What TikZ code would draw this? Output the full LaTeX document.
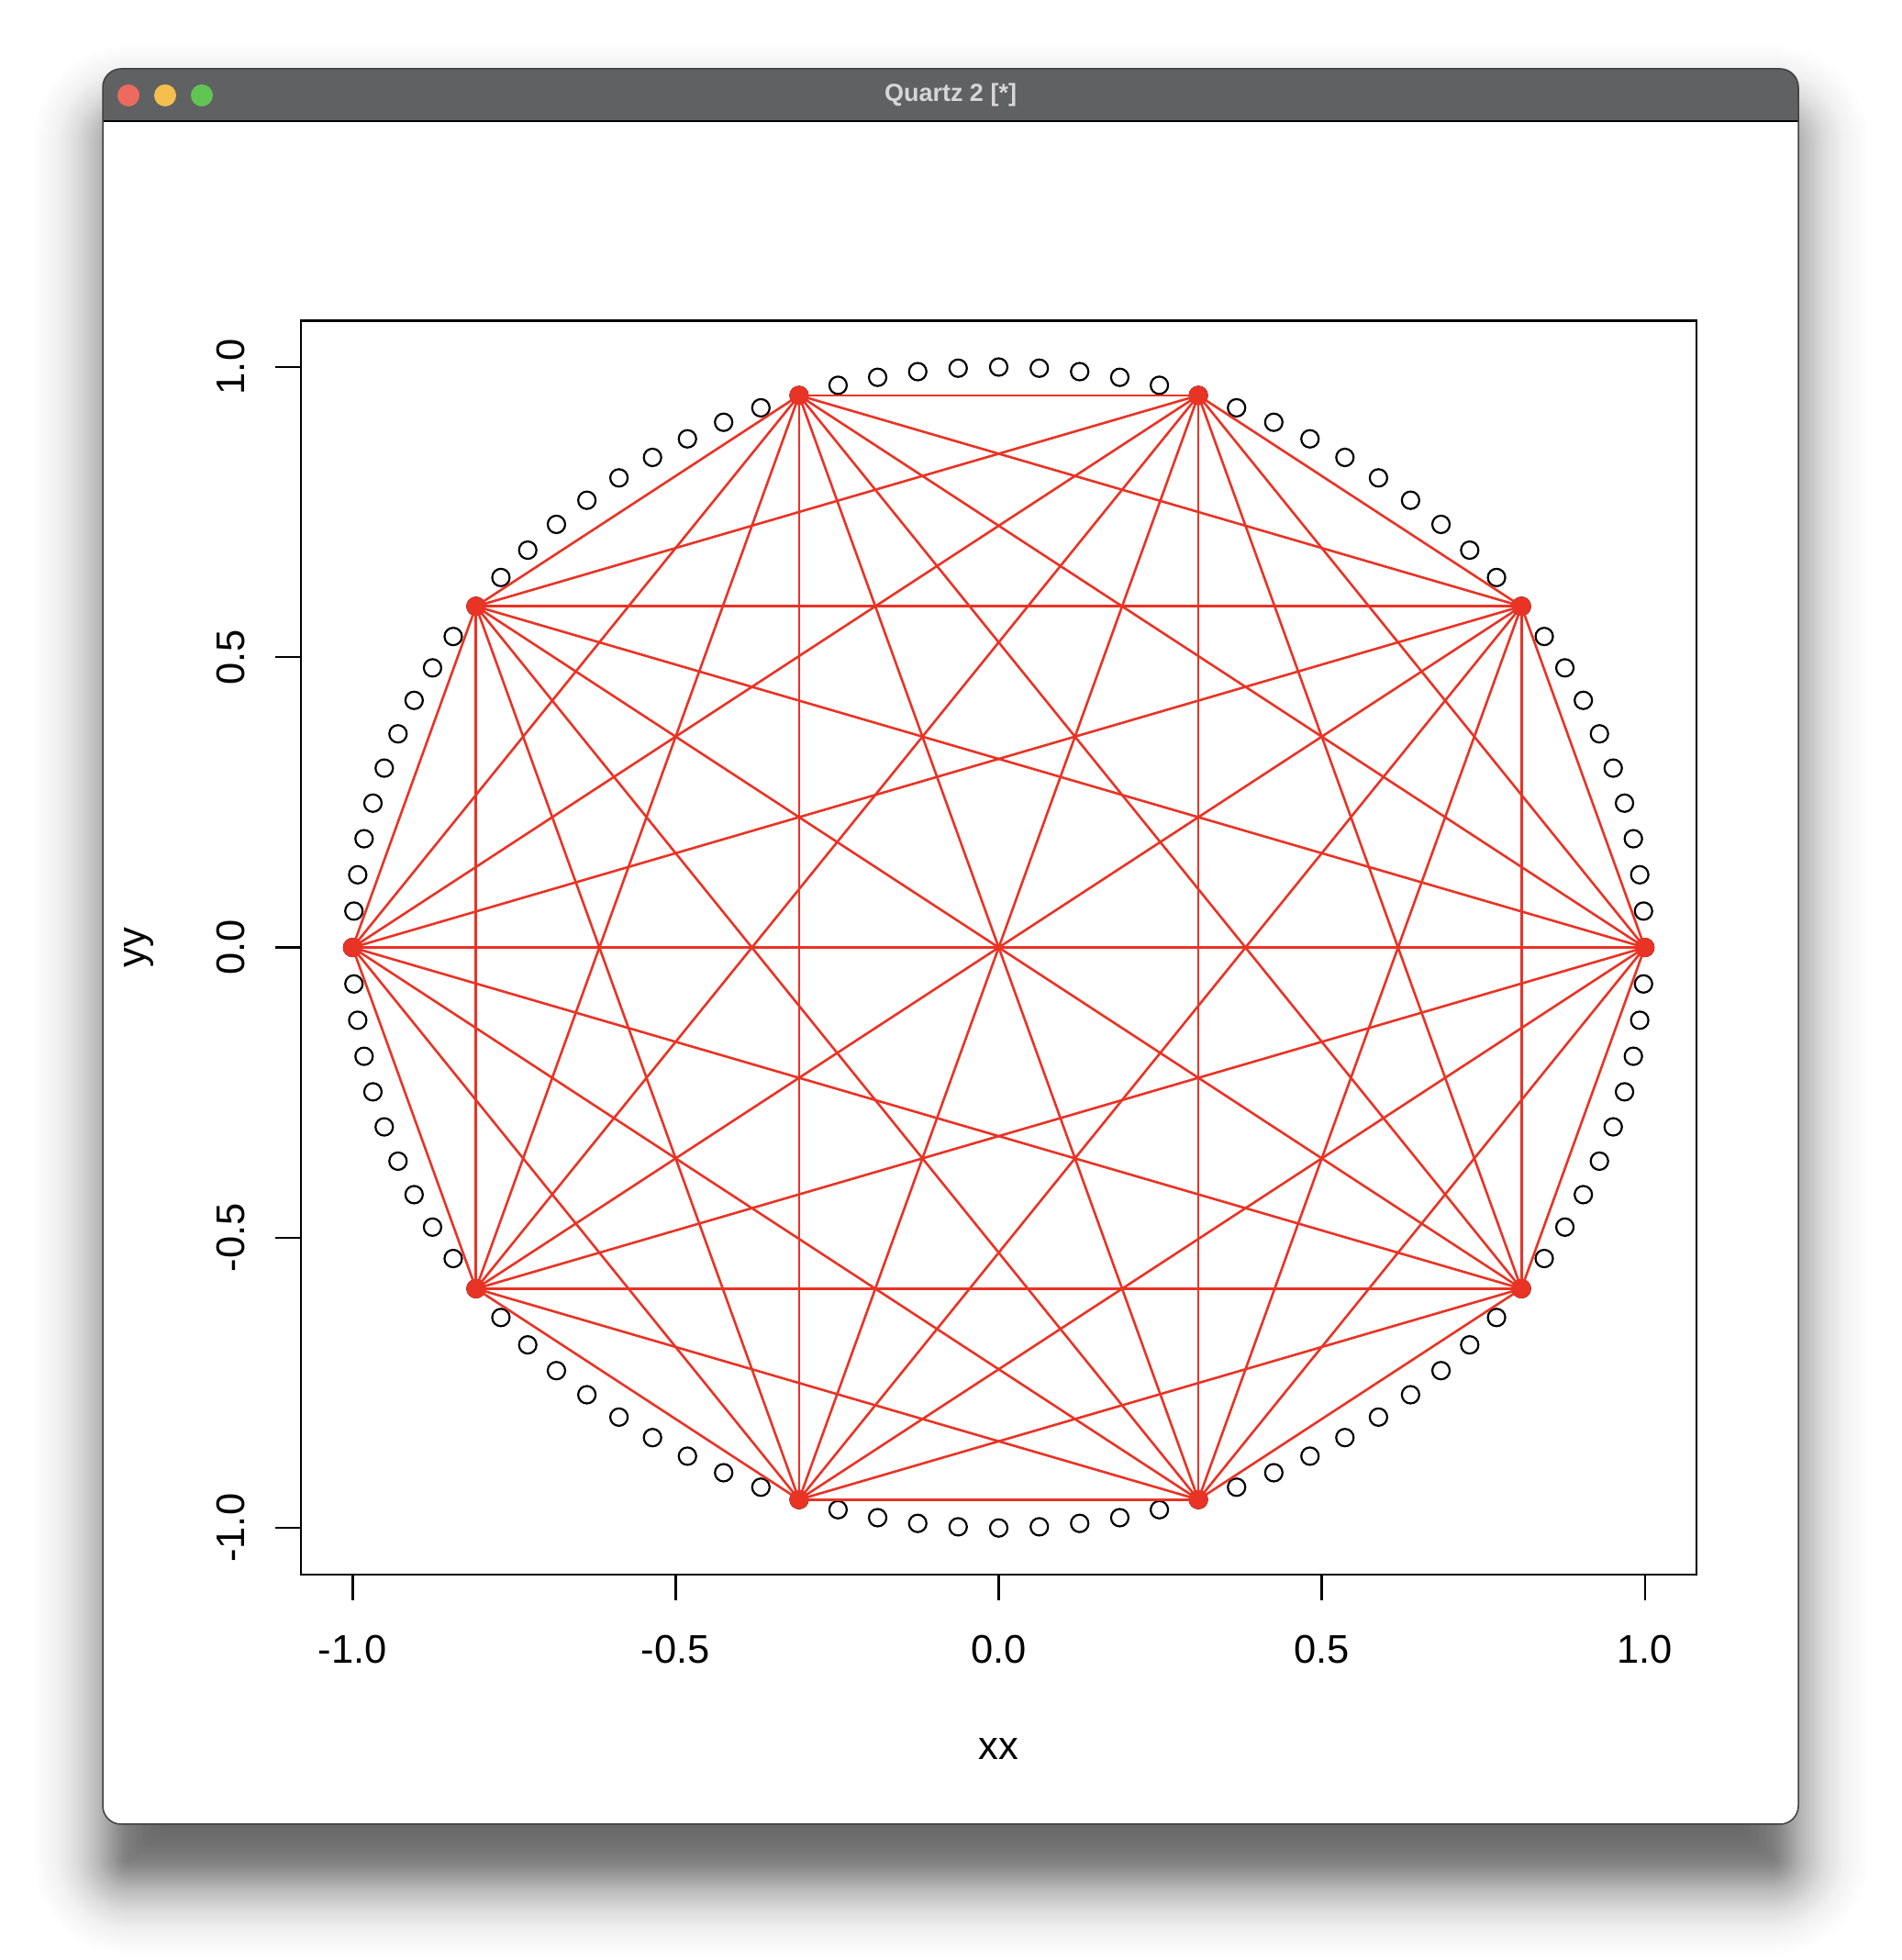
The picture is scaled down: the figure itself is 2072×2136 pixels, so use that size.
\documentclass[tikz,border=0pt]{standalone}
\usepackage{fontspec}
\setmainfont{Liberation Sans}
\definecolor{plotred}{RGB}{233,51,37}
\definecolor{titlebar}{RGB}{96,97,99}
\definecolor{titletext}{RGB}{214,214,214}
\definecolor{tlred}{RGB}{237,106,94}
\definecolor{tlyellow}{RGB}{245,191,79}
\definecolor{tlgreen}{RGB}{97,197,84}
\tikzset{
  axisline/.style={line width=2.5pt, black},
  tickline/.style={line width=2.4pt, black},
  ticklabel/.style={font=\fontsize{43.5}{50}\selectfont, anchor=base, inner sep=0pt},
  openpt/.style={line width=2.2pt, black},
  edgeline/.style={line width=2.6pt, plotred},
}
\begin{document}
\begin{tikzpicture}[x=1pt,y=1pt]
\useasboundingbox (0,0) rectangle (2072,2136);
\fill[white] (0,0) rectangle (2072,2136);
% window shadow (gaussian-like stack)
\foreach \e in {-110,-108,...,110} {
  \pgfmathsetmacro{\rr}{max(6,20+\e)}
  \pgfmathsetmacro{\op}{0.0145*exp(-(\e*\e)/(2*44*44))}
  \pgfmathsetmacro{\xa}{122-\e}
  \pgfmathsetmacro{\ya}{92-\e}
  \pgfmathsetmacro{\xb}{1950+\e}
  \pgfmathsetmacro{\yb}{2001+\e}
  \fill[black, opacity=\op, rounded corners=\rr pt] (\xa,\ya) rectangle (\xb,\yb);
}
% window
\fill[white, rounded corners=20pt] (112,148) rectangle (1960,2061);
\fill[titlebar] (112,2004) -- (112,2041) arc[start angle=180,end angle=90,radius=20]
  -- (1940,2061) arc[start angle=90,end angle=0,radius=20] -- (1960,2004) -- cycle;
\draw[black, line width=2pt] (112,2004) -- (1960,2004);
\draw[black!75, line width=1.5pt, rounded corners=20pt] (112,148) rectangle (1960,2061);
\fill[tlred] (140,2032) circle[radius=12];
\fill[tlyellow] (180,2032) circle[radius=12];
\fill[tlgreen] (220,2032) circle[radius=12];
\node[font=\bfseries\fontsize{27}{30}\selectfont, text=titletext, anchor=base, inner sep=0pt] (title) at (1036,2025) {Quartz 2 [*]};
% axis labels
\foreach \t/\lab in {-1/-1.0,-0.5/-0.5,0/0.0,0.5/0.5,1/1.0} {
  \pgfmathsetmacro{\px}{1088.5+704.2*\t}
  \pgfmathsetmacro{\py}{1103.4+632.6*\t}
  \node[ticklabel] (xl\lab) at (\px,323) {\lab};
  \node[ticklabel, rotate=90] (yl\lab) at (266,\py) {\lab};
}
\node[ticklabel] (xtitle) at (1088.5,218) {xx};
\node[ticklabel, rotate=90] (ytitle) at (158,1103.4) {yy};
% plot region
\begin{scope}[shift={(1088.5,1103.4)}, x=704.2pt, y=632.6pt]
  \draw[axisline] (-1.08,-1.08) rectangle (1.08,1.08);
  \foreach \t in {-1,-0.5,0,0.5,1} {
    \draw[tickline] (\t,-1.08) -- ++(0,-28pt);
    \draw[tickline] (-1.08,\t) -- ++(-28pt,0);
  }
  \foreach \k in {0,...,99} {
    \draw[openpt] ({cos(3.6*\k)},{sin(3.6*\k)}) circle[radius=9.5pt];
  }
  \foreach \k in {0,...,9} {
    \coordinate (p\k) at ({cos(36*\k)},{sin(36*\k)});
  }
  \foreach \i in {0,...,8} {
    \pgfmathtruncatemacro{\s}{\i+1}
    \foreach \j in {\s,...,9} {
      \draw[edgeline] (p\i) -- (p\j);
    }
  }
  \foreach \k in {0,...,9} {
    \fill[plotred] (p\k) circle[radius=10.5pt];
  }
\end{scope}
\end{tikzpicture}
\end{document}
